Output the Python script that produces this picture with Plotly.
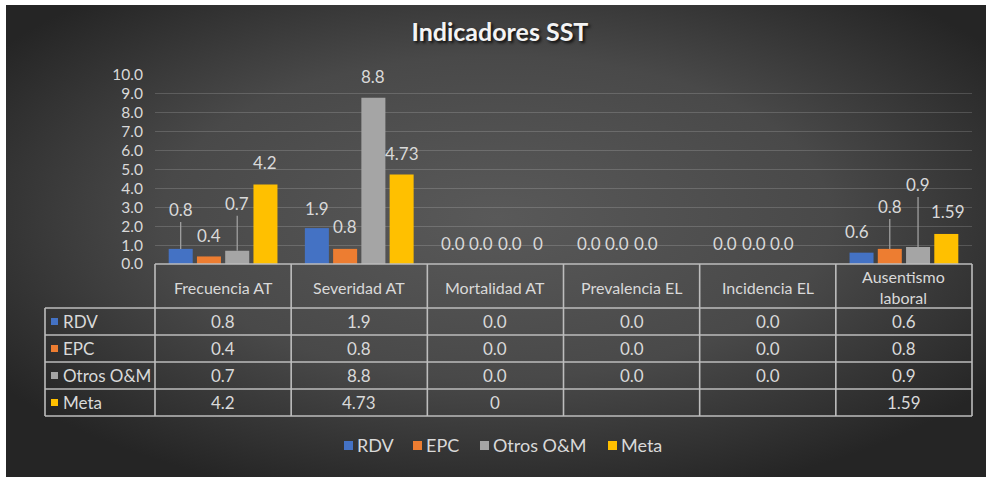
import base64
import plotly.graph_objects as go

# ---- data -------------------------------------------------------------
categories = ["Frecuencia AT", "Severidad AT", "Mortalidad AT",
              "Prevalencia EL", "Incidencia EL", "Ausentismo laboral"]
header_labels = ["Frecuencia AT", "Severidad AT", "Mortalidad AT",
                 "Prevalencia EL", "Incidencia EL", "Ausentismo<br>laboral"]
series_names = ["RDV", "EPC", "Otros O&M", "Meta"]
rdv = [0.8, 1.9, 0.0, 0.0, 0.0, 0.6]
epc = [0.4, 0.8, 0.0, 0.0, 0.0, 0.8]
otros = [0.7, 8.8, 0.0, 0.0, 0.0, 0.9]
meta = [4.2, 4.73, 0, None, None, 1.59]
y_ticks = [0, 1, 2, 3, 4, 5, 6, 7, 8, 9, 10]

series_values = [rdv, epc, otros, meta]

# ---- style ------------------------------------------------------------
colors = ["#4472C4", "#ED7D31", "#A5A5A5", "#FFC000"]
text_color = "#d9d9d9"
line_color = "#bdbdbd"
font_family = "Lato, 'Noto Sans', sans-serif"

# how far (px) each value label sits above its bar top, and sideways nudge
label_lift = [
    [39, 20, 21, 21, 21, 21],
    [21, 22, 21, 21, 21, 42],
    [47, 21, 21, 21, 21, 62],
    [22, 21, 21, 21, 21, 22],
]
label_dx = [
    [0, 0, 0, 0, 0, -5],
    [0, 0, 0, 0, 0, 0],
    [0, 0, 0, 0, 0, 0],
    [0, 0, 0, 0, 0, 2],
]

W, H = 986, 477
L, R, T, B = 155, 14, 75, 213
PW, PH = W - L - R, H - T - B
BARGAP, GROUPGAP = 0.17, 0.15


def fx(p):
    """pixel x -> paper x"""
    return (p - L) / PW


def fy(p):
    """pixel y -> paper y"""
    return (H - B - p) / PH


def fmt(series_idx, v):
    return f"{v:g}" if series_names[series_idx] == "Meta" else f"{v:.1f}"


fig = go.Figure()
for name, vals, col in zip(series_names, series_values, colors):
    fig.add_trace(go.Bar(x=categories, y=vals, name=name,
                         marker=dict(color=col, line=dict(width=0)),
                         showlegend=False))

annotations = []
shapes = []

# value labels above the bars
n_series = len(series_names)
for si, vals in enumerate(series_values):
    for ci, v in enumerate(vals):
        if v is None:
            continue
        xpos = ci + (si - (n_series - 1) / 2) * (1 - BARGAP) / n_series
        lift = label_lift[si][ci]
        common = dict(x=xpos, y=v, xref="x", yref="y", text=fmt(si, v),
                      font=dict(color=text_color, size=17, family=font_family))
        if lift > 30:
            annotations.append(dict(**common, showarrow=True, arrowhead=0,
                                    arrowwidth=1.2, arrowcolor="#a6a6a6",
                                    ax=label_dx[si][ci], ay=-lift, standoff=0))
        else:
            annotations.append(dict(**common, showarrow=False,
                                    xshift=label_dx[si][ci], yshift=lift,
                                    xanchor="center", yanchor="middle"))

# ---- data table under the chart ---------------------------------------
row_edges = [264, 308, 335, 362, 389, 416]
left_edge = 45
n_cat = len(categories)
lw = 1.6

# horizontal lines
shapes.append(dict(type="line", xref="paper", yref="paper", x0=0, x1=1,
                   y0=fy(row_edges[0]), y1=fy(row_edges[0]),
                   line=dict(color=line_color, width=lw)))
for yy in row_edges[1:]:
    shapes.append(dict(type="line", xref="paper", yref="paper",
                       x0=fx(left_edge), x1=1, y0=fy(yy), y1=fy(yy),
                       line=dict(color=line_color, width=lw)))
# vertical lines
for k in range(n_cat + 1):
    shapes.append(dict(type="line", xref="paper", yref="paper",
                       x0=k / n_cat, x1=k / n_cat,
                       y0=fy(row_edges[0]), y1=fy(row_edges[-1]),
                       line=dict(color=line_color, width=lw)))
shapes.append(dict(type="line", xref="paper", yref="paper",
                   x0=fx(left_edge), x1=fx(left_edge),
                   y0=fy(row_edges[1]), y1=fy(row_edges[-1]),
                   line=dict(color=line_color, width=lw)))

# header texts
for k, lab in enumerate(header_labels):
    annotations.append(dict(x=(k + 0.5) / n_cat, y=fy((row_edges[0] + row_edges[1]) / 2 + 1),
                            xref="paper", yref="paper", text=lab, showarrow=False,
                            xanchor="center", yanchor="middle",
                            font=dict(color=text_color, size=16, family=font_family)))

# rows: legend key + values
for si, (name, vals, col) in enumerate(zip(series_names, series_values, colors)):
    yc = (row_edges[si + 1] + row_edges[si + 2]) / 2
    shapes.append(dict(type="rect", xref="paper", yref="paper",
                       x0=fx(51), x1=fx(58), y0=fy(yc - 3.5), y1=fy(yc + 3.5),
                       fillcolor=col, line=dict(width=0)))
    annotations.append(dict(x=fx(61), y=fy(yc), xref="paper", yref="paper",
                            text=name, showarrow=False, xanchor="left",
                            yanchor="middle",
                            font=dict(color=text_color, size=17, family=font_family)))
    for ci, v in enumerate(vals):
        if v is None:
            continue
        annotations.append(dict(x=(ci + 0.5) / n_cat, y=fy(yc), xref="paper",
                                yref="paper", text=fmt(si, v), showarrow=False,
                                xanchor="center", yanchor="middle",
                                font=dict(color=text_color, size=17,
                                          family=font_family)))

# ---- legend below the table ---------------------------------------------
legend_x = [344, 413, 480, 608]
for name, col, lx in zip(series_names, colors, legend_x):
    shapes.append(dict(type="rect", xref="paper", yref="paper",
                       x0=fx(lx), x1=fx(lx + 9), y0=fy(441), y1=fy(450),
                       fillcolor=col, line=dict(width=0)))
    annotations.append(dict(x=fx(lx + 11), y=fy(445), xref="paper", yref="paper",
                            text=name, showarrow=False, xanchor="left",
                            yanchor="middle",
                            font=dict(color=text_color, size=18, family=font_family)))

# ---- dark radial backdrop ----------------------------------------------
bg_w, bg_h = W - 6, H - 5
svg = (f"<svg xmlns='http://www.w3.org/2000/svg' width='{bg_w}' height='{bg_h}' "
       f"viewBox='0 0 {bg_w} {bg_h}' preserveAspectRatio='none'>"
       "<defs><radialGradient id='g' cx='50%' cy='45%' r='62%'>"
       "<stop offset='0' stop-color='#595959'/>"
       "<stop offset='0.55' stop-color='#494949'/>"
       "<stop offset='1' stop-color='#252525'/></radialGradient></defs>"
       f"<rect width='{bg_w}' height='{bg_h}' fill='url(#g)'/></svg>")
bg_src = "data:image/svg+xml;base64," + base64.b64encode(svg.encode()).decode()

fig.update_layout(
    width=W, height=H,
    margin=dict(l=L, r=R, t=T, b=B, pad=0),
    paper_bgcolor="white",
    plot_bgcolor="rgba(0,0,0,0)",
    barmode="group", bargap=BARGAP, bargroupgap=GROUPGAP,
    title=dict(text="<b>Indicadores SST</b>", xref="container", yref="container",
               x=0.507, y=1 - 32 / H, xanchor="center", yanchor="middle",
               font=dict(color="#f4f4f4", size=25, family=font_family,
                         shadow="2px 2px 3px rgba(0,0,0,0.8)")),
    xaxis=dict(showticklabels=False, showgrid=False, zeroline=False,
               showline=False, ticks=""),
    yaxis=dict(range=[0, 10], tickvals=y_ticks, tickformat=".1f",
               showgrid=True, gridcolor="rgba(255,255,255,0.16)", gridwidth=1,
               zeroline=False, showline=False, ticks="", ticklabelstandoff=11,
               tickfont=dict(color=text_color, size=15.5, family=font_family)),
    images=[dict(source=bg_src, xref="paper", yref="paper",
                 x=fx(6), y=fy(5), sizex=bg_w / PW, sizey=bg_h / PH,
                 xanchor="left", yanchor="top", sizing="stretch", layer="below")],
    annotations=annotations,
    shapes=shapes,
)

fig.write_html("out.html")
